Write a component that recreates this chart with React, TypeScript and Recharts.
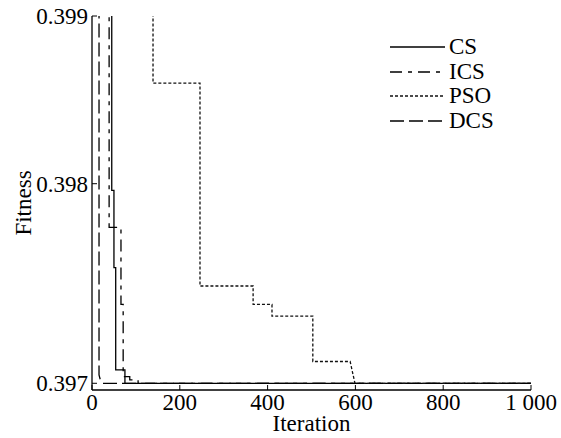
import React from "react";
import {
  LineChart,
  Line,
  XAxis,
  YAxis,
  Legend,
} from "recharts";

// step curves as [iteration, fitness] pairs (fitness > 0.399 is clipped off the top)
const csPoints = [
  [0, 0.4005], [45, 0.4005], [45, 0.39796], [50, 0.39796], [50, 0.3975],
  [54, 0.3975], [54, 0.39689], [75, 0.39689], [75, 0.39681], [1000, 0.39681],
];
const icsPoints = [
  [0, 0.4005], [39, 0.4005], [39, 0.39774], [66, 0.39774], [66, 0.39728],
  [71, 0.39728], [71, 0.39685], [86, 0.39685], [86, 0.39683], [105, 0.39683],
  [105, 0.39681], [1000, 0.39681],
];
const psoPoints = [
  [0, 0.4005], [139, 0.4005], [139, 0.39860], [246, 0.39860], [246, 0.39739],
  [367, 0.39739], [367, 0.39728], [410, 0.39728], [410, 0.39721], [503, 0.39721],
  [503, 0.39694], [588, 0.39694], [599, 0.39681], [1000, 0.39681],
];
const dcsPoints = [
  [0, 0.4005], [16, 0.4005], [16, 0.39686], [19, 0.39683], [25, 0.39681],
  [1000, 0.39681],
];

const X_TICKS = [0, 200, 400, 600, 800, 1000];
const X_TICK_LABELS = ["0", "200", "400", "600", "800", "1 000"];
const Y_TICKS = [0.39681, 0.398, 0.399];
const Y_TICK_LABELS = ["0.397", "0.398", "0.399"];

const FONT = "'Liberation Serif', 'Times New Roman', serif";

const toRows = (pts: number[][]) => pts.map(([iter, fit]) => ({ iter, fit }));

const SERIES = [
  { name: "CS", data: toRows(csPoints), dash: undefined as string | undefined, color: "#000" },
  { name: "ICS", data: toRows(icsPoints), dash: "12 6 4 6", color: "#000" },
  { name: "PSO", data: toRows(psoPoints), dash: "3 2", color: "#111" },
  { name: "DCS", data: toRows(dcsPoints), dash: "14 5", color: "#000" },
];

const BottomTick = (props: any) => {
  const { x, y, payload } = props;
  const i = X_TICKS.indexOf(payload.value);
  return (
    <g>
      <line x1={x} y1={y} x2={x} y2={y - 5} stroke="#000" strokeWidth={1} />
      <text x={x} y={y + 20} textAnchor="middle" fontFamily={FONT} fontSize={23} fill="#000">
        {X_TICK_LABELS[i]}
      </text>
    </g>
  );
};

const TopTick = (props: any) => {
  const { x, y } = props;
  return <line x1={x} y1={y} x2={x} y2={y + 5} stroke="#000" strokeWidth={1} />;
};

const LeftTick = (props: any) => {
  const { x, y, payload } = props;
  const i = Y_TICKS.indexOf(payload.value);
  return (
    <g>
      <line x1={x} y1={y} x2={x + 5} y2={y} stroke="#000" strokeWidth={1} />
      <text x={x - 4} y={y} dy="0.35em" textAnchor="end" fontFamily={FONT} fontSize={23} fill="#000">
        {Y_TICK_LABELS[i]}
      </text>
    </g>
  );
};

const RightTick = (props: any) => {
  const { x, y } = props;
  return <line x1={x} y1={y} x2={x - 5} y2={y} stroke="#000" strokeWidth={1} />;
};

const LegendBox = () => (
  <div style={{ fontFamily: FONT, fontSize: 23, color: "#000" }}>
    {SERIES.map((s) => (
      <div key={s.name} style={{ display: "flex", alignItems: "center", height: 24.5 }}>
        <svg width={57} height={10} style={{ marginRight: 2 }}>
          <line x1={0} y1={5} x2={55} y2={5} stroke={s.color} strokeWidth={1.3} strokeDasharray={s.dash} />
        </svg>
        <span style={{ lineHeight: "24px" }}>{s.name}</span>
      </div>
    ))}
  </div>
);

export default function App() {
  return (
    <div style={{ position: "absolute", left: 0, top: 0, width: 561, height: 438, background: "#fff" }}>
      <LineChart width={561} height={438} margin={{ top: 16, right: 30, left: 0, bottom: 0 }}>
        <XAxis
          xAxisId="b"
          dataKey="iter"
          type="number"
          domain={[0, 1000]}
          ticks={X_TICKS}
          allowDuplicatedCategory={false}
          height={48}
          tickSize={0}
          tickMargin={0}
          tickLine={false}
          tick={<BottomTick />}
          axisLine={{ stroke: "#000", strokeWidth: 1.3 }}
          interval={0}
          label={{
            content: (p: any) => (
              <text
                x={p.viewBox.x + p.viewBox.width / 2}
                y={431}
                textAnchor="middle"
                fontFamily={FONT}
                fontSize={23}
                fill="#000"
              >
                Iteration
              </text>
            ),
          }}
        />
        <XAxis
          xAxisId="t"
          orientation="top"
          type="number"
          dataKey="iter"
          domain={[0, 1000]}
          ticks={X_TICKS}
          height={0}
          tickSize={0}
          tickMargin={0}
          tickLine={false}
          tick={<TopTick />}
          axisLine={{ stroke: "#000", strokeWidth: 1.3 }}
          interval={0}
        />
        <YAxis
          yAxisId="l"
          type="number"
          domain={[0.39677, 0.399]}
          allowDataOverflow
          ticks={Y_TICKS}
          width={92}
          tickSize={0}
          tickMargin={0}
          tickLine={false}
          tick={<LeftTick />}
          axisLine={{ stroke: "#000", strokeWidth: 1.3 }}
          interval={0}
          label={{
            content: (p: any) => {
              const cy = p.viewBox.y + p.viewBox.height / 2;
              return (
                <text
                  x={23}
                  y={cy}
                  transform={`rotate(-90, 23, ${cy})`}
                  dy="0.35em"
                  textAnchor="middle"
                  fontFamily={FONT}
                  fontSize={23}
                  fill="#000"
                >
                  Fitness
                </text>
              );
            },
          }}
        />
        <YAxis
          yAxisId="r"
          orientation="right"
          type="number"
          domain={[0.39677, 0.399]}
          allowDataOverflow
          ticks={Y_TICKS}
          width={0}
          tickSize={0}
          tickMargin={0}
          tickLine={false}
          tick={<RightTick />}
          axisLine={{ stroke: "#000", strokeWidth: 1.3 }}
          interval={0}
        />
        <Legend
          layout="vertical"
          align="center"
          verticalAlign="middle"
          content={<LegendBox />}
          wrapperStyle={{ top: 35, left: 390, width: 120 }}
        />
        {SERIES.map((s) => (
          <Line
            key={s.name}
            xAxisId="b"
            yAxisId="l"
            data={s.data}
            dataKey="fit"
            name={s.name}
            type="linear"
            stroke={s.color}
            strokeWidth={1.3}
            strokeDasharray={s.dash}
            dot={false}
            activeDot={false}
            isAnimationActive={false}
          />
        ))}
      </LineChart>
    </div>
  );
}
